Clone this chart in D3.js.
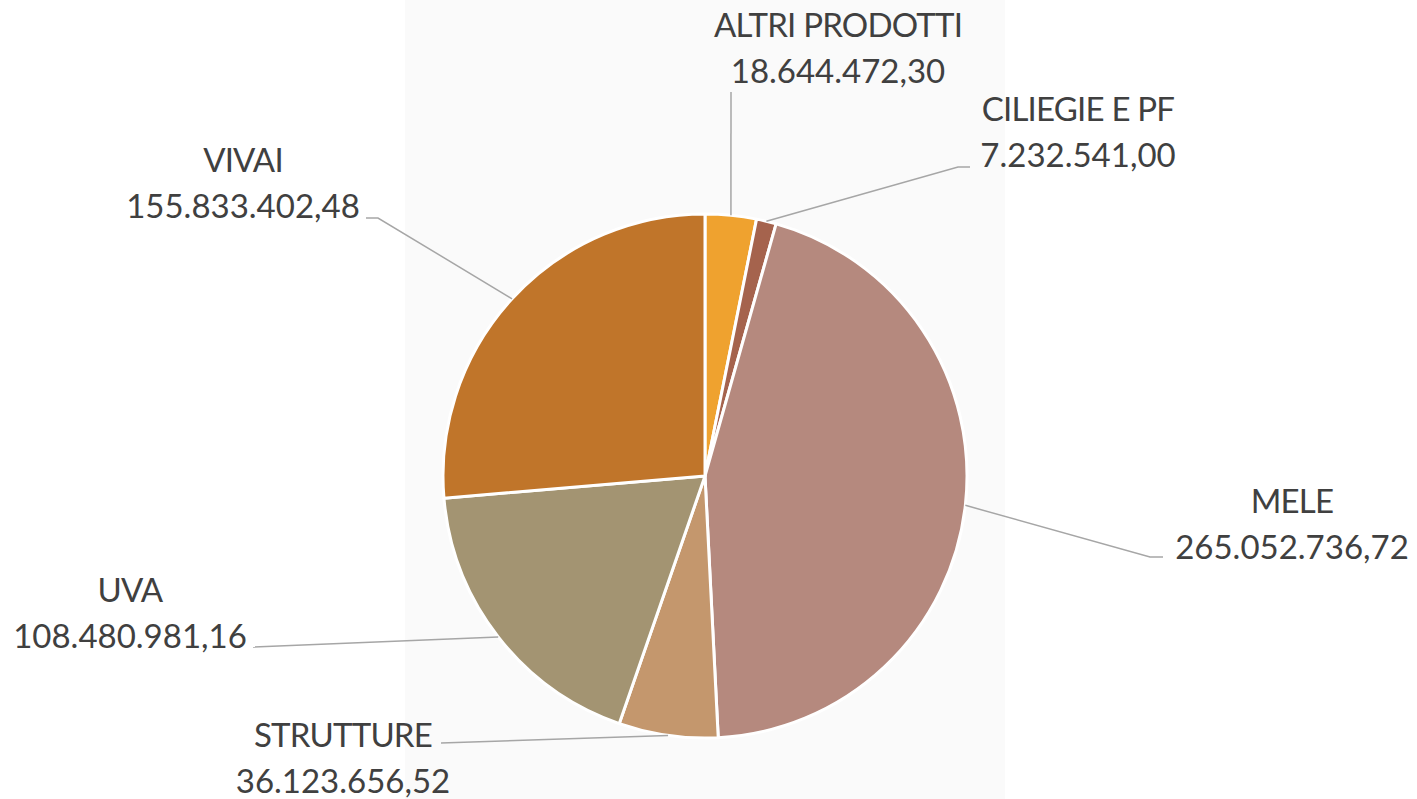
<!DOCTYPE html>
<html lang="it">
<head>
  <meta charset="utf-8">
  <title>Pie</title>
  <script src="https://cdn.jsdelivr.net/npm/d3@7"></script>
  <style>
    html, body {
      margin: 0;
      padding: 0;
      background: #ffffff;
    }
    svg {
      display: block;
    }
    .lbl {
      font-family: Lato, "Open Sans", sans-serif;
      font-size: 33px;
      fill: #404040;
    }
    .lbl .name {
      letter-spacing: -0.8px;
    }
  </style>
</head>
<body>
  <svg id="chart" width="1417" height="799"></svg>

  <script>
    // data
    var categories = ['ALTRI PRODOTTI', 'CILIEGIE E PF', 'MELE', 'STRUTTURE', 'UVA', 'VIVAI']
    var values = [18644472.30, 7232541.00, 265052736.72, 36123656.52, 108480981.16, 155833402.48]
    var colors = ['#EFA22F', '#A5634D', '#B5897E', '#C4976D', '#A39472', '#C0752A']

    // where Excel put each label: text centre x, first baseline y, leader end points
    var labelPos = {
      'ALTRI PRODOTTI': { x: 838, y: 37, pts: [[731, 92]] },
      'CILIEGIE E PF': { x: 1078, y: 121, pts: [[958, 167], [970, 167]] },
      'MELE': { x: 1292, y: 513, pts: [[1150, 557], [1163, 557]] },
      'STRUTTURE': { x: 343, y: 747, pts: [[441, 743]] },
      'UVA': { x: 130, y: 602, pts: [[253, 647]] },
      'VIVAI': { x: 243, y: 172, pts: [[378, 218], [366, 218]] }
    }

    var width = 1417, height = 799
    var cx = 705, cy = 476, radius = 262
    var lineGap = 45

    var it = d3.formatLocale({ decimal: ',', thousands: '.', grouping: [3], currency: ['', ''] })
    var fmt = it.format(',.2f')

    var svg = d3.select('#chart')

    // plot area panel
    svg.append('rect')
      .attr('x', 405).attr('y', 0)
      .attr('width', 600).attr('height', height)
      .attr('fill', '#FAFAFA')

    var rows = categories.map(function(c, i) {
      return { name: c, value: values[i], color: colors[i] }
    })

    var pie = d3.pie().sort(null).value(function(d) { return d.value })
    var arc = d3.arc().innerRadius(0).outerRadius(radius)
    var arcs = pie(rows)

    var g = svg.append('g').attr('transform', 'translate(' + cx + ',' + cy + ')')

    g.selectAll('path.slice')
      .data(arcs)
      .enter().append('path')
      .attr('class', 'slice')
      .attr('d', arc)
      .attr('fill', function(d) { return d.data.color })
      .attr('stroke', '#ffffff')
      .attr('stroke-width', 3)
      .attr('stroke-linejoin', 'round')

    // leader lines from the outer edge at mid angle
    var line = d3.line()
    svg.selectAll('path.leader')
      .data(arcs)
      .enter().append('path')
      .attr('class', 'leader')
      .attr('d', function(d) {
        var a = (d.startAngle + d.endAngle) / 2
        var start = [cx + radius * Math.sin(a), cy - radius * Math.cos(a)]
        return line([start].concat(labelPos[d.data.name].pts))
      })
      .attr('fill', 'none')
      .attr('stroke', '#A6A6A6')
      .attr('stroke-width', 1.5)

    var labels = svg.selectAll('text.lbl')
      .data(arcs)
      .enter().append('text')
      .attr('class', 'lbl')
      .attr('text-anchor', 'middle')

    labels.append('tspan')
      .attr('class', 'name')
      .attr('x', function(d) { return labelPos[d.data.name].x })
      .attr('y', function(d) { return labelPos[d.data.name].y })
      .text(function(d) { return d.data.name })

    labels.append('tspan')
      .attr('x', function(d) { return labelPos[d.data.name].x })
      .attr('y', function(d) { return labelPos[d.data.name].y + lineGap + 1 })
      .text(function(d) { return fmt(d.data.value) })
  </script>
</body>
</html>
